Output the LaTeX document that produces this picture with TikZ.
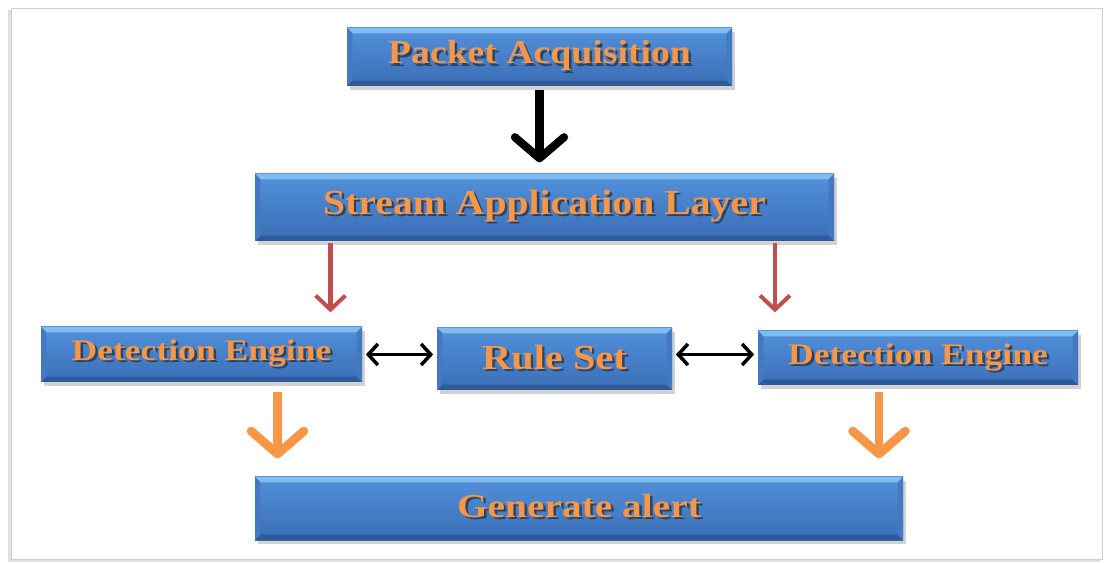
\documentclass[tikz,border=0pt]{standalone}
\usepackage{fontspec}
\setmainfont{Liberation Serif}
\usetikzlibrary{arrows.meta,shadows}
\definecolor{boxtop}{HTML}{5291DA}
\definecolor{boxbot}{HTML}{3A6EB6}
\definecolor{bevellight}{HTML}{80BCF2}
\definecolor{beveldark}{HTML}{2D5A98}
\definecolor{bevelside}{HTML}{4379C0}
\definecolor{labelorange}{HTML}{F79646}
\definecolor{labelshade}{HTML}{2A4466}
\definecolor{linkred}{HTML}{C0504D}
\definecolor{flowgreyline}{HTML}{D0D0D0}
% orange bold label, slightly widened, with a small dark drop shadow behind it
\newcommand\shadowlabel[2][1.15]{\scalebox{#1}[1]{\makebox[0pt][l]{\kern1.2pt\raisebox{-1.2pt}{\color{labelshade}#2}}#2}}
\tikzset{
  x=0.02cm, y=-0.02cm,
  flowbox/.style={rectangle, inner sep=0pt,
    top color=boxtop, bottom color=boxbot,
    drop shadow={shadow xshift=1.5pt, shadow yshift=-2pt, opacity=0.35},
    text=labelorange, font=\bfseries,
    path picture={
      \coordinate (bl) at (path picture bounding box.south west);
      \coordinate (tr) at (path picture bounding box.north east);
      \coordinate (tl) at (path picture bounding box.north west);
      \coordinate (br) at (path picture bounding box.south east);
      % bevelled rim: light upper edge, darker lower edge, medium sides
      \fill[bevellight] (tl) -- (tr) -- ([shift={(-3pt,-3pt)}]tr) -- ([shift={(3pt,-3pt)}]tl) -- cycle;
      \fill[beveldark] (bl) -- (br) -- ([shift={(-3pt,3pt)}]br) -- ([shift={(3pt,3pt)}]bl) -- cycle;
      \fill[bevelside] (tl) -- ([shift={(3pt,-3pt)}]tl) -- ([shift={(3pt,3pt)}]bl) -- (bl) -- cycle;
      \fill[bevelside] (tr) -- ([shift={(-3pt,-3pt)}]tr) -- ([shift={(-3pt,3pt)}]br) -- (br) -- cycle;
    }},
  bigdown/.style={line width=4.6pt, -{Straight Barb[length=12pt,width=28pt,line cap=round,line join=round]}},
  reddown/.style={linkred, line width=2.3pt, -{Straight Barb[length=8pt,width=17pt]}},
  orangedown/.style={labelorange, line width=5pt, -{Straight Barb[length=13pt,width=30pt,line cap=round,line join=round]}},
  twoway/.style={line width=2pt, shorten <=2pt, shorten >=2pt, {Straight Barb[length=5.5pt,width=12pt]}-{Straight Barb[length=5.5pt,width=12pt]}},
}
\begin{document}
\begin{tikzpicture}
\useasboundingbox (0,0) rectangle (1105,563);
% page frame
\fill[black!12] (8,10) rectangle (1100,562);
\fill[white, draw=flowgreyline] (11,8) rectangle (1102,559);

% boxes
\node[flowbox, minimum width=385*0.02cm, minimum height=58*0.02cm, font=\bfseries\fontsize{19}{22}\selectfont] (acq) at (539.5,57) {\shadowlabel[1.13]{Packet Acquisition}};
\node[flowbox, minimum width=579*0.02cm, minimum height=67*0.02cm, font=\bfseries\fontsize{20}{24}\selectfont] (sal) at (544.5,207.5) {\raisebox{3pt}{\shadowlabel[1.13]{Stream Application Layer}}};
\node[flowbox, minimum width=321*0.02cm, minimum height=55*0.02cm, font=\bfseries\fontsize{17}{20}\selectfont] (detl) at (201.5,354.5) {\raisebox{1pt}{\shadowlabel[1.19]{Detection Engine}}};
\node[flowbox, minimum width=235*0.02cm, minimum height=62*0.02cm, font=\bfseries\fontsize{20}{24}\selectfont] (rules) at (554.5,359) {\raisebox{2pt}{\shadowlabel[1.15]{Rule Set}}};
\node[flowbox, minimum width=320*0.02cm, minimum height=54*0.02cm, font=\bfseries\fontsize{17}{20}\selectfont] (detr) at (918,358) {\shadowlabel[1.19]{Detection Engine}};
\node[flowbox, minimum width=648*0.02cm, minimum height=63*0.02cm, font=\bfseries\fontsize{19}{22}\selectfont] (alert) at (579,508.5) {\raisebox{3pt}{\shadowlabel[1.18]{Generate alert}}};

% connectors
\draw[bigdown] (acq.south) ++(0,4) -- ++(0,72);
\draw[reddown] (sal.south -| detl.north) ++(129,2) -- ++(0,69);
\draw[reddown] (sal.south -| detr.north) ++(-143,2) -- ++(0,69);
\draw[twoway] (detl.east) -- (rules.west |- detl.east);
\draw[twoway] (rules.east |- detl.east) -- (detr.west |- detl.east);
\draw[orangedown] (detl.south) ++(76,10) -- ++(0,66);
\draw[orangedown] (detr.south) ++(-39,7) -- ++(0,66);
\end{tikzpicture}
\end{document}
